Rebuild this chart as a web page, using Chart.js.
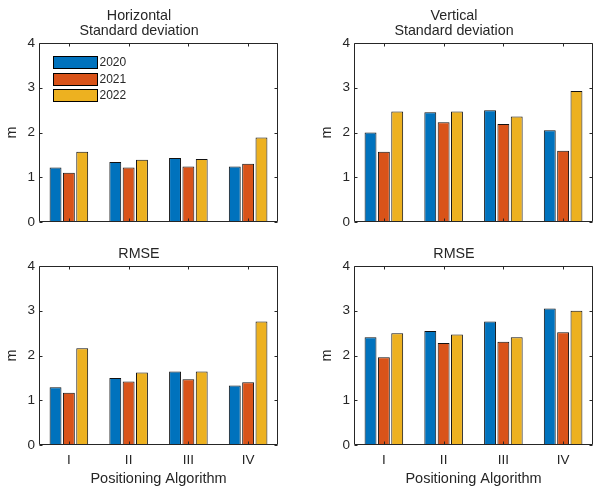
<!DOCTYPE html>
<html>
<head>
<meta charset="utf-8">
<script src="https://cdn.jsdelivr.net/npm/chart.js@4.4.1/dist/chart.umd.min.js"></script>
<style>
  html, body { margin: 0; padding: 0; background: #fff; }
  #wrap { position: relative; width: 595px; height: 490px; overflow: hidden; }
  .panel { position: absolute; }
  .panel canvas { display: block; }
</style>
</head>
<body>
<div id="wrap">
  <div class="panel" style="left:0;top:0"><canvas id="horizStd" width="297" height="240"></canvas></div>
  <div class="panel" style="left:315px;top:0"><canvas id="vertStd" width="280" height="240"></canvas></div>
  <div class="panel" style="left:0;top:240px"><canvas id="horizRmse" width="297" height="250"></canvas></div>
  <div class="panel" style="left:315px;top:240px"><canvas id="vertRmse" width="280" height="250"></canvas></div>
</div>
<script>
// categories / series
const algorithms = ["I", "II", "III", "IV"];
const years = ["2020", "2021", "2022"];
const yearColors = ["#0072BD", "#D95319", "#EDB120"];

const horizStd2020 = [1.22, 1.34, 1.43, 1.24];
const horizStd2021 = [1.10, 1.22, 1.24, 1.30];
const horizStd2022 = [1.57, 1.39, 1.41, 1.89];

const vertStd2020 = [2.00, 2.45, 2.50, 2.05];
const vertStd2021 = [1.57, 2.23, 2.19, 1.59];
const vertStd2022 = [2.47, 2.47, 2.36, 2.93];

const horizRmse2020 = [1.29, 1.50, 1.64, 1.33];
const horizRmse2021 = [1.17, 1.42, 1.47, 1.40];
const horizRmse2022 = [2.16, 1.62, 1.64, 2.76];

const vertRmse2020 = [2.41, 2.55, 2.76, 3.05];
const vertRmse2021 = [1.96, 2.28, 2.31, 2.52];
const vertRmse2022 = [2.50, 2.47, 2.41, 3.00];

const yMin = 0;
const yMax = 4;
const yStep = 1;

const FONT = "'Liberation Sans', Arial, Helvetica, sans-serif";
const INK = "#262626";

// axes box + inward tick marks, MATLAB style
const boxPlugin = {
    id: "boxPlugin",
    afterDatasetsDraw(chart) {
        const { ctx, chartArea: a, scales } = chart;
        const l = Math.round(a.left) + 0.5, r = Math.round(a.right) - 0.5;
        const t = Math.round(a.top) + 0.5, b = Math.round(a.bottom) - 0.5;
        const tl = 3;
        ctx.save();
        ctx.strokeStyle = INK;
        ctx.lineWidth = 1;
        ctx.beginPath();
        ctx.rect(l, t, r - l, b - t);
        scales.y.ticks.forEach((tk, i) => {
            const y = Math.round(scales.y.getPixelForTick(i)) + 0.5;
            ctx.moveTo(l, y); ctx.lineTo(l + tl, y);
            ctx.moveTo(r, y); ctx.lineTo(r - tl, y);
        });
        scales.x.ticks.forEach((tk, i) => {
            const x = Math.round(scales.x.getPixelForTick(i)) + 0.5;
            ctx.moveTo(x, b); ctx.lineTo(x, b - tl);
            ctx.moveTo(x, t); ctx.lineTo(x, t + tl);
        });
        ctx.stroke();
        ctx.restore();
    }
};

// legend inside the axes (top-left panel only)
const innerLegend = {
    id: "innerLegend",
    afterDraw(chart, args, opts) {
        if (!opts.show) return;
        const { ctx, chartArea: a } = chart;
        ctx.save();
        ctx.font = "12px " + FONT;
        ctx.textBaseline = "middle";
        ctx.textAlign = "left";
        chart.data.datasets.forEach((ds, i) => {
            const x = Math.round(a.left) + 14.5;
            const y = Math.round(a.top + 13 + i * 16.5) + 0.5;
            ctx.fillStyle = ds.backgroundColor;
            ctx.fillRect(x, y, 44, 12);
            ctx.strokeStyle = "#000";
            ctx.lineWidth = 1;
            ctx.strokeRect(x, y, 44, 12);
            ctx.fillStyle = INK;
            ctx.fillText(ds.label, x + 46, y + 6.5);
        });
        ctx.restore();
    }
};

function makePanel(canvasId, titleText, series, cfg) {
    return new Chart(document.getElementById(canvasId), {
        type: "bar",
        data: {
            labels: algorithms,
            datasets: series.map((vals, i) => ({
                label: years[i],
                data: vals,
                backgroundColor: yearColors[i],
                borderColor: "#111",
                borderWidth: 1,
                borderSkipped: false,
                categoryPercentage: 0.67,
                barPercentage: 0.89
            }))
        },
        options: {
            responsive: false,
            animation: false,
            layout: { padding: { left: 0, right: cfg.padRight, top: 0, bottom: 0 } },
            plugins: {
                legend: { display: false },
                tooltip: { enabled: false },
                title: {
                    display: true,
                    text: titleText,
                    color: INK,
                    font: { family: FONT, size: 14.3, weight: "normal", lineHeight: 15 / 14.3 },
                    padding: { top: cfg.titleTop, bottom: 4.5 }
                },
                innerLegend: { show: !!cfg.legend }
            },
            scales: {
                x: {
                    grid: { display: false, drawTicks: false },
                    border: { display: false },
                    ticks: {
                        display: !!cfg.xLabels,
                        color: INK,
                        font: { family: FONT, size: 13.5 },
                        padding: 7
                    },
                    title: {
                        display: !!cfg.xLabels,
                        text: "Positioning Algorithm",
                        color: INK,
                        font: { family: FONT, size: 14.5, lineHeight: 1.2 },
                        padding: { top: 0, bottom: 2.3 }
                    },
                    afterFit(scale) { scale.height = cfg.xHeight; }
                },
                y: {
                    min: yMin,
                    max: yMax,
                    grid: { display: false, drawTicks: false },
                    border: { display: false },
                    ticks: {
                        stepSize: yStep,
                        color: INK,
                        font: { family: FONT, size: 13.5 },
                        padding: 4
                    },
                    title: {
                        display: true,
                        text: "m",
                        color: INK,
                        font: { family: FONT, size: 14.5, lineHeight: 1.2 },
                        padding: { top: 3.3, bottom: 0 }
                    },
                    afterFit(scale) { scale.width = 39; }
                }
            }
        },
        plugins: [boxPlugin, innerLegend]
    });
}

makePanel("horizStd", ["Horizontal", "Standard deviation"],
    [horizStd2020, horizStd2021, horizStd2022],
    { padRight: 19, titleTop: 8.5, xHeight: 18, legend: true });

makePanel("vertStd", ["Vertical", "Standard deviation"],
    [vertStd2020, vertStd2021, vertStd2022],
    { padRight: 2, titleTop: 8.5, xHeight: 18 });

makePanel("horizRmse", "RMSE",
    [horizRmse2020, horizRmse2021, horizRmse2022],
    { padRight: 19, titleTop: 6.5, xHeight: 45, xLabels: true });

makePanel("vertRmse", "RMSE",
    [vertRmse2020, vertRmse2021, vertRmse2022],
    { padRight: 2, titleTop: 6.5, xHeight: 45, xLabels: true });
</script>
</body>
</html>
